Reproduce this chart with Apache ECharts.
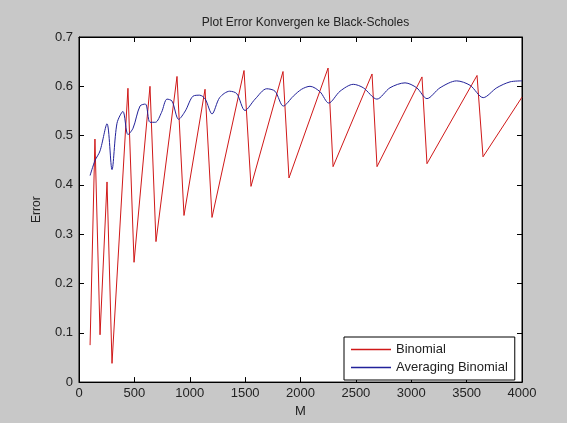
<!DOCTYPE html>
<html>
<head>
<meta charset="utf-8">
<script src="https://cdn.jsdelivr.net/npm/echarts@6/dist/echarts.min.js"></script>
<style>
html,body{margin:0;padding:0;background:#c8c8c8;}
#chart{width:567px;height:423px;}
</style>
</head>
<body>
<div id="chart"></div>
<script>
// Binomial error (sawtooth)
const binomialM = [100, 144, 190, 253, 298, 442, 497, 641, 695, 885, 948, 1138, 1201, 1490, 1553, 1842, 1896, 2249, 2294, 2646, 2691, 3097, 3142, 3594, 3648, 4000];
const binomialErr = [0.075, 0.493, 0.096, 0.406, 0.038, 0.596, 0.243, 0.600, 0.285, 0.620, 0.338, 0.594, 0.334, 0.632, 0.397, 0.630, 0.414, 0.637, 0.437, 0.625, 0.437, 0.619, 0.443, 0.622, 0.457, 0.578];
// Averaging Binomial error
const avgM = [100, 144, 190, 253, 298, 343, 397, 442, 488, 551, 600, 641, 690, 745, 795, 840, 900, 960, 1030, 1090, 1140, 1201, 1270, 1360, 1425, 1499, 1590, 1695, 1770, 1845, 1935, 2010, 2086, 2176, 2255, 2357, 2477, 2567, 2690, 2808, 2944, 3049, 3142, 3260, 3410, 3531, 3650, 3772, 3892, 4000];
const avgErr = [0.419, 0.449, 0.469, 0.524, 0.431, 0.525, 0.549, 0.502, 0.515, 0.560, 0.564, 0.527, 0.527, 0.547, 0.574, 0.570, 0.533, 0.550, 0.580, 0.582, 0.574, 0.544, 0.577, 0.590, 0.585, 0.551, 0.574, 0.595, 0.590, 0.560, 0.580, 0.594, 0.600, 0.589, 0.566, 0.590, 0.604, 0.597, 0.574, 0.597, 0.607, 0.597, 0.575, 0.597, 0.611, 0.602, 0.577, 0.597, 0.609, 0.611];

const seriesNames = ['Binomial', 'Averaging Binomial'];
const seriesColors = ['#d01818', '#22229a'];
const titleText = 'Plot Error Konvergen ke Black-Scholes';
const xName = 'M';
const yName = 'Error';

const FONT = 'Liberation Sans, Arial, sans-serif';
const chart = echarts.init(document.getElementById('chart'));

function pairs(xs, ys){ return xs.map((x,i)=>[x, ys[i]]); }

const axisCommon = {
  axisLine: {show: true, onZero: false, lineStyle: {color: '#000', width: 1}},
  axisTick: {show: true, inside: true, length: 5, lineStyle: {color: '#000'}},
  splitLine: {show: false}
};

chart.setOption({
  backgroundColor: '#c8c8c8',
  animation: false,
  title: {
    text: titleText,
    left: 300.5, top: 12,
    textAlign: 'center',
    textStyle: {fontFamily: FONT, fontSize: 12, fontWeight: 'normal', color: '#222'}
  },
  legend: {
    data: seriesNames.map((n, i) => ({name: n, itemStyle: {color: seriesColors[i]}})),
    orient: 'vertical',
    left: 344, top: 337,
    backgroundColor: '#fff',
    borderColor: '#000', borderWidth: 1, borderRadius: 0,
    padding: [6, 7, 6, 7],
    itemGap: 5,
    itemWidth: 40, itemHeight: 1.5,
    icon: 'rect',
    textStyle: {fontFamily: FONT, fontSize: 13, color: '#222', padding: [0,0,0,0]}
  },
  grid: {left: 79, right: 45, top: 37, bottom: 37, show: true, backgroundColor: '#fff', borderColor: '#000', borderWidth: 1},
  xAxis: [
    Object.assign({
      type: 'value', min: 0, max: 4000, interval: 500, position: 'bottom',
      name: xName, nameLocation: 'middle', nameGap: 22,
      nameTextStyle: {fontFamily: FONT, fontSize: 13, color: '#222'},
      axisLabel: {fontFamily: FONT, fontSize: 13, color: '#222', margin: 5,
        formatter: v => String(v)}
    }, axisCommon),
    Object.assign({
      type: 'value', min: 0, max: 4000, interval: 500, position: 'top',
      axisLabel: {show: false}
    }, axisCommon)
  ],
  yAxis: [
    Object.assign({
      type: 'value', min: 0, max: 0.7, interval: 0.1, position: 'left',
      name: yName, nameLocation: 'middle', nameGap: 36,
      nameTextStyle: {fontFamily: FONT, fontSize: 12, color: '#222'},
      axisLabel: {fontFamily: FONT, fontSize: 13, color: '#222', margin: 6,
        formatter: v => (Math.round(v*10)/10).toString()}
    }, axisCommon),
    Object.assign({
      type: 'value', min: 0, max: 0.7, interval: 0.1, position: 'right',
      axisLabel: {show: false}
    }, axisCommon)
  ],
  series: [
    {
      name: seriesNames[0], type: 'line', xAxisIndex: 0, yAxisIndex: 0,
      data: pairs(binomialM, binomialErr),
      showSymbol: false, symbol: 'none',
      lineStyle: {color: seriesColors[0], width: 1},
      itemStyle: {color: seriesColors[0]}
    },
    {
      name: seriesNames[1], type: 'line', xAxisIndex: 0, yAxisIndex: 0,
      data: pairs(avgM, avgErr),
      smooth: 0.3,
      showSymbol: false, symbol: 'none',
      lineStyle: {color: seriesColors[1], width: 1},
      itemStyle: {color: seriesColors[1]}
    }
  ]
});
</script>
</body>
</html>
